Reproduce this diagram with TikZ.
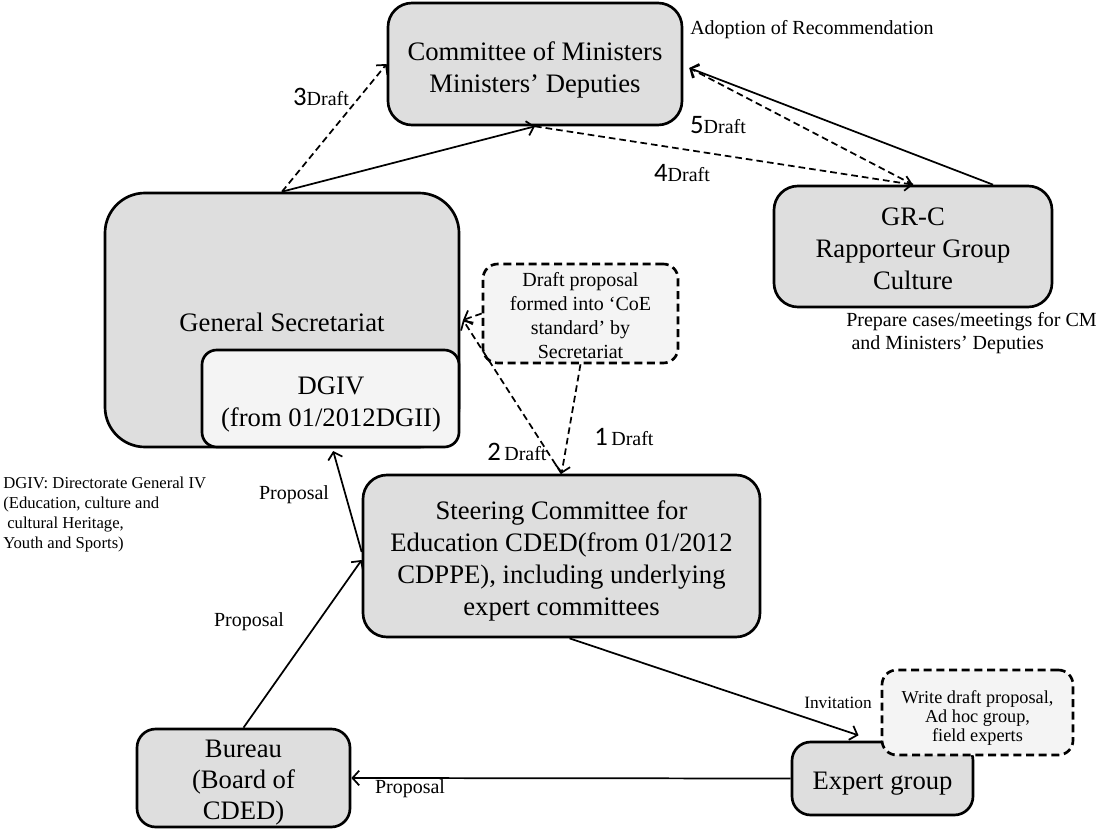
\documentclass[tikz,border=0pt]{standalone}
\usepackage{fontspec}
\setmainfont{Liberation Serif}
\newfontfamily\numfont{Carlito}
\usetikzlibrary{arrows.meta}
\definecolor{boxgray}{HTML}{DEDEDE}
\definecolor{lightbox}{HTML}{F4F4F4}
\begin{document}
\begin{tikzpicture}[x=0.75pt,y=-0.75pt,
  box/.style={draw=black,line width=2pt,fill=boxgray,rounded corners=18pt,inner sep=0pt},
  lightboxst/.style={box,fill=lightbox,rounded corners=11pt},
  dashbox/.style={draw=black,line width=2pt,fill=lightbox,rounded corners=11pt,
    dash pattern=on 6pt off 3.5pt,inner sep=0pt},
  bigtxt/.style={align=center,inner sep=0pt,font=\fontsize{20}{23.5}\selectfont},
  conn/.style={line width=1.3pt,-{Straight Barb[length=5pt,width=11pt]}},
  dconn/.style={conn,dash pattern=on 5pt off 3pt},
  lab/.style={font=\fontsize{15}{17}\selectfont,inner sep=0pt},
  drlab/.style={inner sep=0pt}
]
\useasboundingbox (0,0) rectangle (1100,831);

% boxes
\node[box,minimum width=220.5pt,minimum height=91.5pt] (cm) at (535,64) {};
\node[bigtxt] (cmt) at (535,70) {Committee of Ministers\\Ministers’ Deputies};

\node[box,rounded corners=30pt,minimum width=265.5pt,minimum height=190.5pt] (gs) at (282,320) {};
\node[bigtxt] (gst) at (282,322) {General Secretariat};

\node[lightboxst,minimum width=192.75pt,minimum height=72.75pt] (dgiv) at (330.5,398.5) {};
\node[bigtxt,font=\fontsize{20}{24}\selectfont] (dgivt) at (331,405) {DGIV\\(from 01/2012DGII)};

\node[dashbox,minimum width=146.25pt,minimum height=74.25pt] (dp) at (580.5,313.5) {};
\node[align=center,inner sep=0pt,font=\fontsize{15}{17.8}\selectfont] (dpt) at (580.5,315.5)
  {Draft proposal\\formed into ‘CoE\\standard’ by\\Secretariat};

\node[box,minimum width=208.5pt,minimum height=90.75pt] (grc) at (913,246.5) {};
\node[bigtxt,font=\fontsize{20}{24}\selectfont] (grct) at (913,249)
  {GR-C\\Rapporteur Group\\Culture};

\node[box,minimum width=297.75pt,minimum height=121.5pt] (st) at (561.5,556) {};
\node[bigtxt,font=\fontsize{20}{23.8}\selectfont] (stt) at (561.5,561)
  {Steering Committee for\\Education CDED(from 01/2012\\CDPPE), including underlying\\expert committees};

\node[box,rounded corners=14pt,minimum width=159.75pt,minimum height=73.5pt] (bu) at (243.5,778) {};
\node[bigtxt,font=\fontsize{20}{23.5}\selectfont] (but) at (243.5,782.5) {Bureau\\(Board of\\CDED)};

\node[box,rounded corners=14pt,minimum width=135.75pt,minimum height=54.75pt] (eg) at (882.5,778.5) {};
\node[bigtxt] (egt) at (882.5,784) {Expert group};

\node[dashbox,minimum width=143.25pt,minimum height=63.75pt] (wd) at (977.5,712.5) {};
\node[align=center,inner sep=0pt,font=\fontsize{13.7}{14}\selectfont] (wdt) at (977.5,718)
  {Write draft proposal,\\Ad hoc group,\\field experts};

% free text
\node[lab,anchor=west] (adopt) at (690,30) {Adoption of Recommendation};
\node[lab,anchor=north west,align=left] (prep) at (846,312)
  {Prepare cases/meetings for CM\\\hspace*{4pt}and Ministers’ Deputies};
\node[font=\fontsize{12.5}{15}\selectfont,inner sep=0pt,anchor=north west,align=left] (note) at (3,477)
  {DGIV: Directorate General IV\\(Education, culture and\\\hspace*{3pt}cultural Heritage,\\Youth and Sports)};

% connectors
\draw[dconn] (gs.north) -- (cm.west);
\draw[conn] (gs.north) -- (cm.south);
\draw[dconn] (cm.south) -- (grc.north);
\draw[dconn] (grc.north) -- ([xshift=4.5pt,yshift=-3pt]cm.east);
\draw[conn] ([xshift=60pt]grc.north) -- ([xshift=4.5pt,yshift=-3pt]cm.east);
\draw[dconn] (dp.west) -- ([xshift=2pt]gs.east);
\draw[dconn] (st.north) -- ([xshift=2pt]gs.east);
\draw[dconn] (dp.south) -- (st.north);
\draw[conn] ([yshift=3pt]st.west) -- ([xshift=2pt,yshift=-2pt]dgiv.south);
\draw[conn] (bu.north) -- ([yshift=-3pt]st.west);
\draw[conn] ([xshift=6pt]st.south) -- ([xshift=-18pt,yshift=4pt]eg.north);
\draw[conn] (eg.west) -- (bu.east);

% labels
\node[drlab] (l3) at (321,97) {{\numfont\fontsize{20}{20}\selectfont 3}{\fontsize{15}{17}\selectfont Draft}};
\node[drlab] (l5) at (718,125) {{\numfont\fontsize{20}{20}\selectfont 5}{\fontsize{15}{17}\selectfont Draft}};
\node[drlab] (l4) at (682,173) {{\numfont\fontsize{20}{20}\selectfont 4}{\fontsize{15}{17}\selectfont Draft}};
\node[drlab] (l1) at (624,437) {{\numfont\fontsize{20}{20}\selectfont 1} {\fontsize{15}{17}\selectfont Draft}};
\node[drlab] (l2) at (517,452) {{\numfont\fontsize{20}{20}\selectfont 2} {\fontsize{15}{17}\selectfont Draft}};
\node[lab] (p1) at (294,495) {Proposal};
\node[lab] (p2) at (249,622) {Proposal};
\node[lab] (p3) at (410,789) {Proposal};
\node[font=\fontsize{13}{15}\selectfont,inner sep=0pt] (inv) at (838,703) {Invitation};
\end{tikzpicture}
\end{document}
